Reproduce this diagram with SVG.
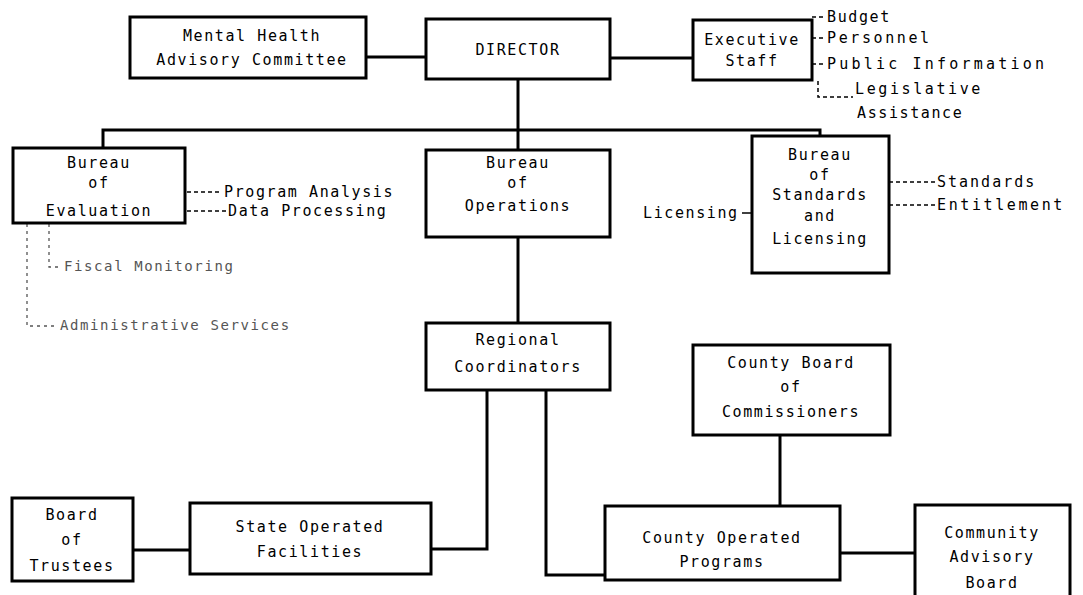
<svg xmlns="http://www.w3.org/2000/svg" width="1083" height="595" viewBox="0 0 1083 595">
  <style>
    .box { fill: #fff; stroke: #000; stroke-width: 3; }
    .conn { fill: none; stroke: #000; stroke-width: 3; }
    .dash { fill: none; stroke: #000; stroke-width: 1.5; stroke-dasharray: 4 3; }
    .faint { fill: none; stroke: #555; stroke-width: 1.3; stroke-dasharray: 3 4; }
    text { font-family: "DejaVu Sans Mono", "Liberation Mono", monospace; font-size: 15px; letter-spacing: 1.6px; fill: #000; }
    .c { text-anchor: middle; }
    .wide { letter-spacing: 2.6px; }
    .wider { letter-spacing: 3.2px; }
    .dim { fill: #555; font-size: 14px; }
  </style>
  <rect width="1083" height="595" fill="#fff"/>

  <g id="connectors">
    <!-- top row -->
    <line class="conn" x1="366" y1="57" x2="426" y2="57"/>
    <line class="conn" x1="610" y1="58" x2="693" y2="58"/>
    <!-- director to bureau bus -->
    <line class="conn" x1="518" y1="79" x2="518" y2="150"/>
    <polyline class="conn" points="103,148 103,130 820,130 820,136"/>
    <!-- operations chain -->
    <line class="conn" x1="518" y1="237" x2="518" y2="323"/>
    <polyline class="conn" points="487,390 487,549 431,549"/>
    <polyline class="conn" points="546,390 546,575 605,575"/>
    <line class="conn" x1="133" y1="550" x2="190" y2="550"/>
    <line class="conn" x1="780" y1="435" x2="780" y2="506"/>
    <line class="conn" x1="840" y1="553" x2="915" y2="553"/>
    <!-- licensing tick -->
    <line class="conn" x1="742" y1="213" x2="752" y2="213" style="stroke-width:1.5"/>
    <!-- executive staff functions -->
    <line class="dash" x1="812" y1="17" x2="826" y2="17"/>
    <line class="dash" x1="812" y1="38" x2="826" y2="38"/>
    <line class="dash" x1="812" y1="64" x2="826" y2="64"/>
    <polyline class="dash" points="818,81 818,97 853,97"/>
    <!-- evaluation functions -->
    <line class="dash" x1="187" y1="192" x2="222" y2="192"/>
    <line class="dash" x1="187" y1="211" x2="226" y2="211"/>
    <polyline class="faint" points="49,224 49,267 62,267"/>
    <polyline class="faint" points="27,224 27,326 58,326"/>
    <!-- standards functions -->
    <line class="dash" x1="889" y1="182" x2="935" y2="182"/>
    <line class="dash" x1="889" y1="205" x2="935" y2="205"/>
  </g>

  <g id="mental-health-advisory-committee">
    <rect class="box" x="130" y="17" width="236" height="61"/>
    <text class="c" x="252" y="41">Mental Health</text>
    <text class="c" x="252" y="65">Advisory Committee</text>
  </g>
  <g id="director">
    <rect class="box" x="426" y="19" width="184" height="60"/>
    <text class="c" x="518" y="55">DIRECTOR</text>
  </g>
  <g id="executive-staff">
    <rect class="box" x="693" y="20" width="119" height="60"/>
    <text class="c" x="752" y="45">Executive</text>
    <text class="c" x="752" y="66">Staff</text>
  </g>
  <g id="executive-functions">
    <text x="827" y="22">Budget</text>
    <text class="wide" x="827" y="43">Personnel</text>
    <text class="wider" x="827" y="69">Public Information</text>
    <text class="wide" x="855" y="94">Legislative</text>
    <text x="857" y="118">Assistance</text>
  </g>

  <g id="bureau-of-evaluation">
    <rect class="box" x="13" y="148" width="172" height="75"/>
    <text class="c" x="99" y="168">Bureau</text>
    <text class="c" x="99" y="188">of</text>
    <text class="c" x="99" y="216">Evaluation</text>
  </g>
  <g id="evaluation-functions">
    <text x="224" y="197">Program Analysis</text>
    <text x="228" y="216">Data Processing</text>
    <text class="dim" x="64" y="271">Fiscal Monitoring</text>
    <text class="dim" x="60" y="330">Administrative Services</text>
  </g>

  <g id="bureau-of-operations">
    <rect class="box" x="426" y="150" width="184" height="87"/>
    <text class="c" x="518" y="168">Bureau</text>
    <text class="c" x="518" y="188">of</text>
    <text class="c" x="518" y="211">Operations</text>
  </g>

  <g id="bureau-of-standards-and-licensing">
    <rect class="box" x="752" y="136" width="137" height="137"/>
    <text class="c" x="820" y="160">Bureau</text>
    <text class="c" x="820" y="180">of</text>
    <text class="c" x="820" y="200">Standards</text>
    <text class="c" x="820" y="221">and</text>
    <text class="c" x="820" y="244">Licensing</text>
  </g>
  <g id="standards-functions">
    <text x="937" y="187" style="letter-spacing:2px">Standards</text>
    <text class="wide" x="937" y="210">Entitlement</text>
    <text x="643" y="218">Licensing</text>
  </g>

  <g id="regional-coordinators">
    <rect class="box" x="426" y="323" width="184" height="67"/>
    <text class="c" x="518" y="345">Regional</text>
    <text class="c" x="518" y="372">Coordinators</text>
  </g>

  <g id="county-board-of-commissioners">
    <rect class="box" x="693" y="345" width="197" height="90"/>
    <text class="c" x="791" y="368">County Board</text>
    <text class="c" x="791" y="392">of</text>
    <text class="c" x="791" y="417">Commissioners</text>
  </g>

  <g id="board-of-trustees">
    <rect class="box" x="12" y="498" width="121" height="83"/>
    <text class="c" x="72" y="520">Board</text>
    <text class="c" x="72" y="545">of</text>
    <text class="c" x="72" y="571">Trustees</text>
  </g>

  <g id="state-operated-facilities">
    <rect class="box" x="190" y="503" width="241" height="71"/>
    <text class="c" x="310" y="532">State Operated</text>
    <text class="c" x="310" y="557">Facilities</text>
  </g>

  <g id="county-operated-programs">
    <rect class="box" x="605" y="506" width="235" height="74"/>
    <text class="c" x="722" y="543">County Operated</text>
    <text class="c" x="722" y="567">Programs</text>
  </g>

  <g id="community-advisory-board">
    <rect class="box" x="915" y="505" width="155" height="100"/>
    <text class="c" x="992" y="538">Community</text>
    <text class="c" x="992" y="562">Advisory</text>
    <text class="c" x="992" y="588">Board</text>
  </g>
</svg>
